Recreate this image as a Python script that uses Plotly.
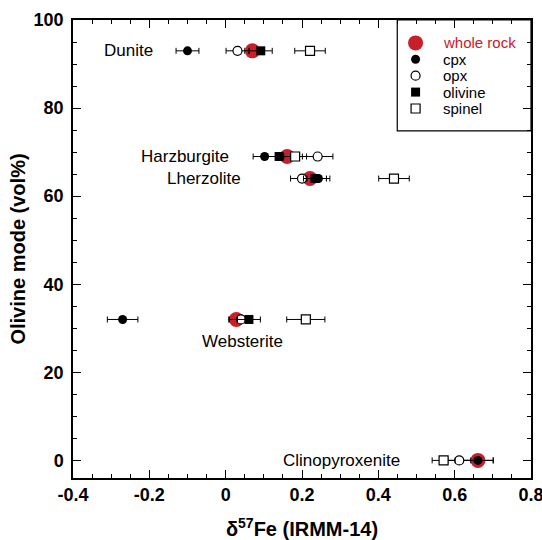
import plotly.graph_objects as go

# --- data ---
rock_names = ["Dunite", "Harzburgite", "Lherzolite", "Websterite", "Clinopyroxenite"]
olivine_mode = [93, 69, 64, 32, 0]

wr_fe = [0.070, 0.161, 0.221, 0.028, 0.661]
wr_err = [0.02, 0.02, 0.02, 0.02, 0.04]

cpx_fe = [-0.100, 0.102, 0.243, -0.270, 0.661]
cpx_err = [0.03, 0.03, 0.03, 0.04, 0.04]

opx_fe = [0.031, 0.241, 0.200, 0.040, 0.612]
opx_err = [0.03, 0.04, 0.03, 0.03, 0.03]

ol_fe = [0.092, 0.140, 0.234, 0.061, None]
ol_err = [0.03, 0.03, 0.03, 0.03, None]

sp_fe = [0.221, 0.182, 0.441, 0.210, 0.571]
sp_err = [0.04, 0.03, 0.04, 0.05, 0.03]

label_x = [-0.184, 0.015, 0.046, 0.045, 0.461]
label_y = [93, 69, 64, 27, 0]
label_anchor = ["right", "right", "right", "center", "right"]

x_ticks = [-0.4, -0.2, 0, 0.2, 0.4, 0.6, 0.8]
x_ticktext = ["-0.4", "-0.2", "0", "0.2", "0.4", "0.6", "0.8"]
y_ticks = [0, 20, 40, 60, 80, 100]

legend_names = ["whole rock", "cpx", "opx", "olivine", "spinel"]

RED = "#c8202a"
FONT = "Liberation Sans, Arial, sans-serif"

styles = [
    dict(symbol="circle", size=15, color=RED, line=dict(width=0)),
    dict(symbol="circle", size=9, color="black", line=dict(width=0)),
    dict(symbol="circle", size=9, color="white", line=dict(width=1.2, color="black")),
    dict(symbol="square", size=9, color="black", line=dict(width=0)),
    dict(symbol="square", size=9, color="white", line=dict(width=1.2, color="black")),
]
series_x = [wr_fe, cpx_fe, opx_fe, ol_fe, sp_fe]
series_err = [wr_err, cpx_err, opx_err, ol_err, sp_err]

fig = go.Figure()

def err(arr):
    return dict(type="data", array=arr, visible=True, color="black",
                thickness=1, width=3)

for name, xs, es, st in zip(legend_names, series_x, series_err, styles):
    fig.add_trace(go.Scatter(x=xs, y=olivine_mode, mode="markers", name=name,
                             marker=st, error_x=err(es), showlegend=False,
                             cliponaxis=False))

# custom legend box (paper-like overlay axes)
box_x0, box_y0 = 0.708, 0.758
mark_x, text_x = 0.748, 0.803
row_top, row_step = 0.950, 0.0358
fig.add_shape(type="rect", xref="paper", yref="paper", x0=box_x0, x1=1.0,
              y0=box_y0, y1=1.0, line=dict(color="black", width=1.2),
              fillcolor="white", layer="below")
for i, (name, st) in enumerate(zip(legend_names, styles)):
    yy = row_top - i * row_step
    fig.add_trace(go.Scatter(x=[mark_x], y=[yy], xaxis="x2", yaxis="y2",
                             mode="markers", marker=st, showlegend=False,
                             hoverinfo="skip"))
    fig.add_annotation(xref="paper", yref="paper", x=text_x, y=yy, text=name,
                       showarrow=False, xanchor="left", yanchor="middle",
                       font=dict(family=FONT, size=15,
                                 color=RED if i == 0 else "black"))

for name, lx, ly, anc in zip(rock_names, label_x, label_y, label_anchor):
    fig.add_annotation(x=lx, y=ly, text=name, showarrow=False, xanchor=anc,
                       yanchor="middle", font=dict(family=FONT, size=17, color="black"))

def axis_common():
    return dict(
        showline=True, linecolor="black", linewidth=1.5, mirror="allticks",
        ticks="inside", ticklen=8, tickwidth=1.3, tickcolor="black",
        showgrid=False, zeroline=False, automargin=False,
        ticklabeloverflow="allow",
        tickfont=dict(family=FONT, size=18, color="black", weight="bold"),
    )

xaxis = axis_common()
xaxis.update(
    range=[-0.4, 0.8], tickvals=x_ticks, ticktext=x_ticktext,
    minor=dict(dtick=0.05, ticks="inside", ticklen=4, tickwidth=1.2, tickcolor="black"),
    title=dict(text="δ<sup>57</sup>Fe (IRMM-14)", standoff=21,
               font=dict(family=FONT, size=20, color="black", weight="bold")),
)
yaxis = axis_common()
yaxis.update(
    range=[-4, 100], tickvals=y_ticks,
    minor=dict(dtick=5, ticks="inside", ticklen=4, tickwidth=1.2, tickcolor="black"),
    title=dict(text="Olivine mode (vol%)", standoff=3,
               font=dict(family=FONT, size=20, color="black", weight="bold")),
    ticklabelstandoff=4,
)

fig.update_layout(
    width=542, height=540,
    margin=dict(l=73, r=11, t=20, b=62, autoexpand=False),
    paper_bgcolor="white", plot_bgcolor="white",
    font=dict(family=FONT, color="black"),
    showlegend=False,
    xaxis=xaxis, yaxis=yaxis,
    xaxis2=dict(domain=[0, 1], range=[0, 1], overlaying="x", anchor="y2",
                visible=False, fixedrange=True),
    yaxis2=dict(domain=[0, 1], range=[0, 1], overlaying="y", anchor="x2",
                visible=False, fixedrange=True),
)

fig.write_html(
    "out.html",
    config={"responsive": False, "displayModeBar": False},
    post_script="document.body.style.margin='0';document.body.style.overflow='hidden';",
)
